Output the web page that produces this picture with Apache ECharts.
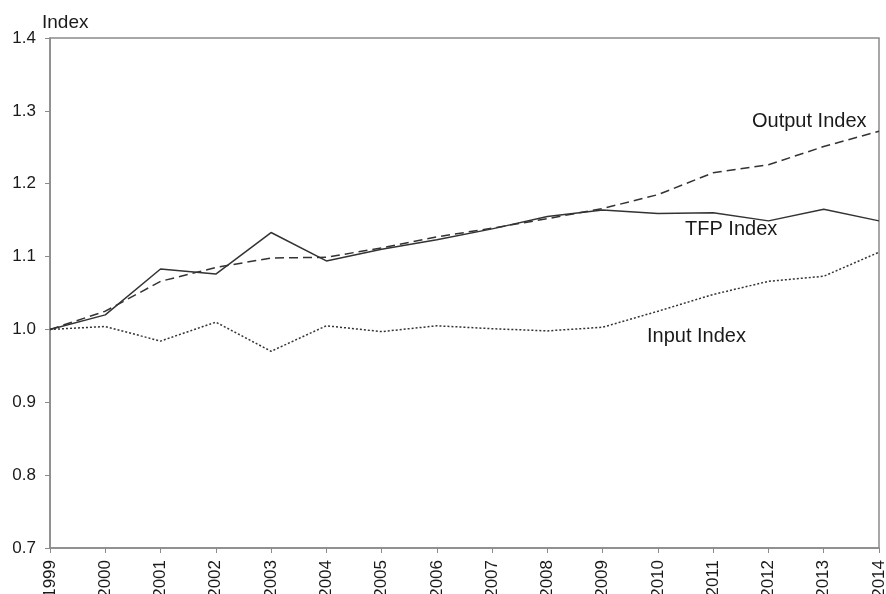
<!DOCTYPE html>
<html>
<head>
<meta charset="utf-8">
<script src="https://cdn.jsdelivr.net/npm/echarts@6/dist/echarts.min.js"></script>
<style>html,body{margin:0;padding:0;background:#fff}#c{width:886px;height:594px}</style>
</head>
<body>
<div id="c"></div>
<script>
var years = ['1999','2000','2001','2002','2003','2004','2005','2006','2007','2008','2009','2010','2011','2012','2013','2014'];
var tfpIndex    = [1.000,1.020,1.083,1.076,1.133,1.094,1.110,1.123,1.138,1.155,1.164,1.159,1.160,1.149,1.165,1.149];
var outputIndex = [1.000,1.025,1.066,1.085,1.098,1.099,1.112,1.127,1.139,1.152,1.166,1.185,1.215,1.226,1.251,1.272];
var inputIndex  = [1.000,1.004,0.984,1.010,0.970,1.005,0.997,1.005,1.001,0.998,1.003,1.025,1.048,1.066,1.073,1.106];
var yTicks = {min: 0.7, max: 1.4, step: 0.1};

var chart = echarts.init(document.getElementById('c'));
var font = 'Liberation Sans, Arial, sans-serif';
var lineCol = '#333333';
chart.setOption({
  animation: false,
  backgroundColor: '#fff',
  grid: {left: 50, right: 7, top: 38, bottom: 46, containLabel: false, outerBoundsMode: 'none', show: true, borderColor: '#8a8a8a', borderWidth: 1.5},
  xAxis: {
    type: 'category', data: years, boundaryGap: false,
    axisLine: {lineStyle: {color: '#8a8a8a', width: 1.5}},
    axisTick: {alignWithLabel: true, length: 5, lineStyle: {color: '#8a8a8a'}},
    axisLabel: {rotate: 90, color: '#1a1a1a', fontSize: 17, fontFamily: font, margin: 12, interval: 0},
    splitLine: {show: false}
  },
  yAxis: {
    type: 'value', min: yTicks.min, max: yTicks.max, interval: yTicks.step,
    name: 'Index', nameLocation: 'end', nameGap: 6,
    nameTextStyle: {color: '#1a1a1a', fontSize: 19, fontFamily: font, align: 'left', padding: [0,0,0,-8]},
    axisLine: {show: true, lineStyle: {color: '#8a8a8a', width: 1.5}},
    axisTick: {show: true, length: 5, lineStyle: {color: '#8a8a8a'}},
    axisLabel: {color: '#1a1a1a', fontSize: 17, fontFamily: font, margin: 14, formatter: function(v){return v.toFixed(1);}},
    splitLine: {show: false}
  },
  series: [
    {name: 'TFP Index', type: 'line', data: tfpIndex, symbol: 'none', lineStyle: {color: lineCol, width: 1.5, type: 'solid'}},
    {name: 'Output Index', type: 'line', data: outputIndex, symbol: 'none', lineStyle: {color: lineCol, width: 1.5, type: [9, 5]}},
    {name: 'Input Index', type: 'line', data: inputIndex, symbol: 'none', lineStyle: {color: lineCol, width: 1.5, type: [2, 2]}}
  ],
  graphic: [
    {type: 'text', left: 752, top: 111, style: {text: 'Output Index', fill: '#1a1a1a', fontSize: 20, fontFamily: font}},
    {type: 'text', left: 685, top: 219, style: {text: 'TFP Index', fill: '#1a1a1a', fontSize: 20, fontFamily: font}},
    {type: 'text', left: 647, top: 326, style: {text: 'Input Index', fill: '#1a1a1a', fontSize: 20, fontFamily: font}}
  ]
});
</script>
</body>
</html>
